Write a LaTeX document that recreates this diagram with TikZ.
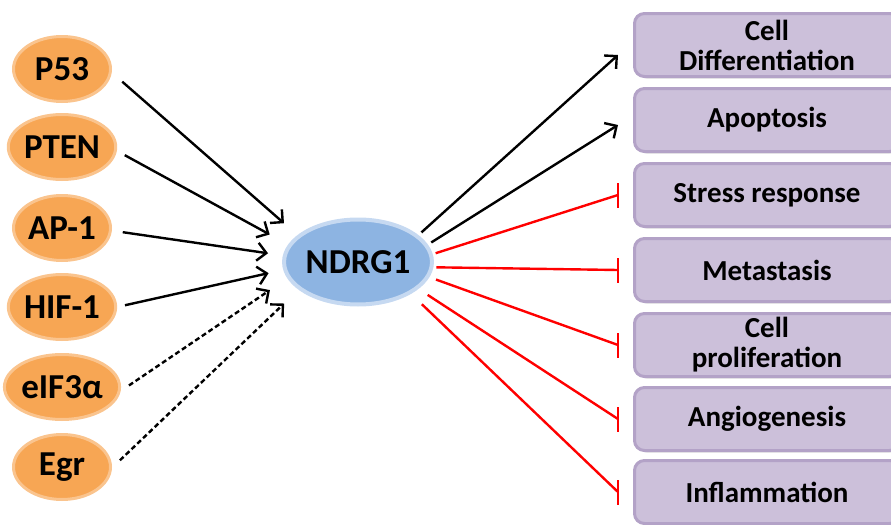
\documentclass[tikz,border=0pt]{standalone}
\usepackage{fontspec}
\setmainfont{Carlito}
\usetikzlibrary{arrows.meta,shapes,shadows}
\definecolor{orfill}{RGB}{247,166,84}
\definecolor{orline}{RGB}{250,196,142}
\definecolor{blfill}{RGB}{141,180,226}
\definecolor{blline}{RGB}{198,217,241}
\definecolor{pufill}{RGB}{204,192,218}
\definecolor{puline}{RGB}{179,162,199}
\begin{document}
\begin{tikzpicture}[x=0.5pt,y=-0.5pt,
 factor/.style={ellipse,fill=orfill,draw=orline,line width=1.5pt,minimum width=48.5pt,minimum height=32.5pt,inner sep=0pt,font=\bfseries\fontsize{17.5}{17.5}\selectfont},
 hub/.style={ellipse,fill=blfill,draw=blline,line width=2pt,minimum width=66.5pt,minimum height=42.5pt,inner sep=0pt,font=\bfseries\fontsize{17.5}{17.5}\selectfont},
 effect/.style={rounded corners=5pt,fill=pufill,draw=puline,line width=1.5pt,minimum width=132.5pt,minimum height=31.5pt,inner sep=0pt,align=center,font=\bfseries\fontsize{14.5}{15}\selectfont,drop shadow={shadow xshift=1pt,shadow yshift=-1pt,opacity=0.25}},
 act/.style={line width=1.2pt,-{Straight Barb[length=4.5pt,width=9pt,line width=1.2pt]}},
 inhib/.style={red,line width=1.2pt},
 bar/.style={shorten <=0pt}]
\path[use as bounding box,clip] (0,0) rectangle (891,525);
\node[factor] (p53) at (62,69) {P53};
\node[factor] (pten) at (62,147) {PTEN};
\node[factor] (ap1) at (62,228) {AP-1};
\node[factor] (hif) at (62,307) {HIF-1};
\node[factor] (eif) at (62,387) {eIF3α};
\node[factor] (egr) at (62,467) {Egr};
\node[hub] (ndrg) at (358,262) {NDRG1};
\node[effect] (diff) at (767,45) {Cell\\Differentiation};
\node[effect] (apop) at (767,120) {Apoptosis};
\node[effect] (stress) at (767,195) {Stress response};
\node[effect] (meta) at (767,270) {Metastasis};
\node[effect] (prol) at (767,345) {Cell\\proliferation};
\node[effect] (angio) at (767,419) {Angiogenesis};
\node[effect] (infl) at (767,492) {Inflammation};
\draw[act,shorten <=7pt,shorten >=9pt] (p53.-4) -- (ndrg.156);
\draw[act,shorten <=4.5pt,shorten >=10.5pt] (pten.-4) -- (ndrg.166);
\draw[act,shorten <=5.5pt,shorten >=7.5pt] (ap1.-3) -- (ndrg.175);
\draw[act,shorten <=4pt,shorten >=7.5pt] (hif.0) -- (ndrg.-174);
\draw[act,dash pattern=on 2.5pt off 1.5pt,shorten <=5pt,shorten >=10.5pt] (eif.-4) -- (ndrg.-167);
\draw[act,dash pattern=on 2.5pt off 1.5pt,shorten <=5.5pt,shorten >=10pt] (egr.-1) -- (ndrg.-155);
\draw[act,shorten <=2pt] (ndrg.24) -- ([shift={(-7.5pt,-5pt)}]diff.west);
\draw[act,shorten <=2pt] (ndrg.14) -- ([shift={(-7.5pt,-2.5pt)}]apop.west);
\draw[inhib,shorten <=1.5pt] (ndrg.6) -- ([xshift=-7.5pt]stress.west) edge[bar] +(0,-6.25pt) edge[bar] +(0,6.25pt);
\draw[inhib,shorten <=1.5pt] (ndrg.-4) -- ([xshift=-7.5pt]meta.west) edge[bar] +(0,-6.25pt) edge[bar] +(0,6.25pt);
\draw[inhib,shorten <=3.5pt] (ndrg.-12) -- ([xshift=-7.5pt]prol.west) edge[bar] +(0,-6.25pt) edge[bar] +(0,6.25pt);
\draw[inhib,shorten <=5.5pt] (ndrg.-24) -- ([xshift=-7.5pt]angio.west) edge[bar] +(0,-6.25pt) edge[bar] +(0,6.25pt);
\draw[inhib,shorten <=7.5pt] (ndrg.-31) -- ([xshift=-7.5pt]infl.west) edge[bar] +(0,-6.25pt) edge[bar] +(0,6.25pt);
\end{tikzpicture}
\end{document}
